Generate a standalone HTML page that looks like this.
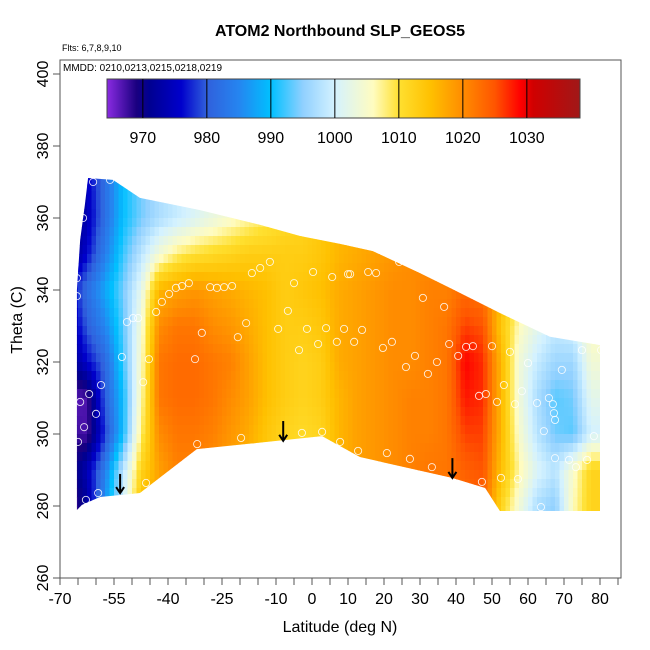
<!DOCTYPE html>
<html><head><meta charset="utf-8"><style>
html,body{margin:0;padding:0;background:#fff}
svg{display:block;font-family:"Liberation Sans",sans-serif}
</style></head><body>
<svg id="chart" width="650" height="650" xmlns="http://www.w3.org/2000/svg">
<defs><clipPath id="fieldClip"><polygon id="clipPoly" points=""/></clipPath>
<linearGradient id="cbGrad" x1="0" x2="1" y1="0" y2="0"></linearGradient></defs>
<text x="340" y="36" text-anchor="middle" font-weight="bold" font-size="16">ATOM2 Northbound SLP_GEOS5</text>
<text x="62" y="51" font-size="9">Flts: 6,7,8,9,10</text>
<g id="field" clip-path="url(#fieldClip)"></g>
<g id="points"></g>
<g id="arrows"></g>
<rect x="60" y="60" width="561" height="518" fill="none" stroke="#555" stroke-width="1"/>
<text x="63" y="71" font-size="10">MMDD: 0210,0213,0215,0218,0219</text>
<g id="colorbar"></g>
<g id="xaxis"></g>
<g id="yaxis"></g>
<text x="340" y="632" text-anchor="middle" font-size="16">Latitude (deg N)</text>
<text transform="translate(22,320) rotate(-90)" text-anchor="middle" font-size="16">Theta (C)</text>
</svg>
<script>
const colLats=[-67.5,-62.5,-57.5,-52.5,-47.5,-42.5,-37.5,-32.5,-27.5,-22.5,-17.5,-12.5,-7.5,-2.5,2.5,7.5,12.5,17.5,22.5,27.5,32.5,37.5,42.5,47.5,52.5,57.5,62.5,67.5,72.5,77.5];
const rowThetas=[370,360,350,340,330,320,310,300,290,280];
const slpRows=[
[968,975,982,990,994,997,999,1001,1003,1005,1007,1009,1011,1013,1015,1016,1017,1018,1019,1020,1020,1021,1022,1023,1020,1012,1008,1005,1005,1008],
[968,974,982,990,994,997,999,1001,1003,1005,1007,1009,1011,1012,1014,1016,1017,1018,1019,1020,1020,1021,1022,1023,1020,1012,1008,1005,1005,1008],
[970,976,984,992,998,1004,1008,1010,1011,1012,1013,1013,1013,1013,1014,1016,1017,1018,1019,1020,1020,1021,1022,1023,1020,1012,1008,1005,1005,1008],
[975,982,988,994,1002,1016,1018,1019,1018,1017,1016,1015,1013,1014,1015,1017,1018,1019,1020,1020,1021,1021,1023,1022,1016,1009,1005,1003,1004,1008],
[972,980,985,993,1004,1020,1022,1022,1020,1019,1017,1015,1013,1013,1014,1017,1018,1019,1020,1020,1021,1022,1026,1025,1014,1006,1002,999,1000,1006],
[970,976,981,992,1005,1022,1023,1023,1022,1021,1018,1015,1013,1012,1013,1017,1018,1019,1020,1020,1021,1022,1029,1027,1016,1004,999,996,996,1004],
[966,967,980,990,1006,1022,1023,1023,1022,1020,1018,1015,1013,1012,1013,1016,1018,1019,1020,1021,1021,1022,1028,1027,1016,1004,997,993,994,1002],
[968,967,978,990,1008,1020,1022,1022,1021,1019,1017,1014,1012,1011,1012,1016,1018,1019,1020,1021,1021,1022,1026,1026,1016,1005,998,994,993,1000],
[968,974,984,998,1012,1018,1021,1021,1020,1018,1016,1014,1012,1011,1012,1016,1018,1019,1020,1021,1022,1022,1024,1025,1015,1007,1001,998,1005,1012],
[966,972,986,1000,1015,1018,1020,1020,1020,1018,1016,1014,1012,1011,1012,1016,1018,1019,1020,1021,1022,1022,1023,1024,1012,1004,997,995,1006,1012]];
const boundLats=[-65.3,-64.4,-63.1,-62.2,-55.3,-47.8,-31.1,-14.4,-3.3,7.8,16.9,30,38.3,52.2,66.1,80,80,52.2,48.1,38.9,13.3,2.8,-32,-47.8,-58.9,-63.9,-65.3];
const boundThetas=[340,353.9,363.6,371.1,370.6,365.6,362.2,358.1,355,352.8,350.8,344.7,340.6,333.6,327,324.7,278.6,278.6,285,287.8,293.6,299.4,295.8,283.6,282.5,280.3,278.9];
const ptLats=[-60.8,-56.1,-63.6,-65.3,-65.3,-49.7,-48.3,-51.4,-52.8,-45.3,-32.5,-46.9,-58.6,-61.9,-64.4,-60,-63.3,-65,-59.4,-62.8,-46.1,-31.9,-19.7,-2.8,2.8,7.8,-43.3,-41.7,-39.7,-37.8,-36.1,-34.2,-28.3,-26.4,-24.4,-22.2,-16.7,-14.4,-11.7,-30.6,-20.6,-18.3,-9.4,-6.7,-5,0.3,5.6,10,-1.4,3.9,8.9,1.7,6.9,-3.6,
24.2,10.6,15.6,17.8,30.8,36.7,13.9,11.7,19.7,22.2,28.6,26.1,34.7,32.2,38.1,40.6,42.8,44.7,50,55,60,69.4,53.3,58.3,46.4,48.3,51.4,56.4,62.5,65.8,66.9,67.2,67.5,64.4,78.3,75,80.3,12.8,20.8,27.2,33.3,47.2,52.5,57.2,67.5,71.4,73.3,76.4,63.6];
const ptThetas=[370,370.6,360,343.3,338.3,332.2,332.2,331.1,321.4,320.8,320.8,314.4,313.6,311.1,308.9,305.6,301.9,297.8,283.6,281.7,286.4,297.2,298.9,300.3,300.6,297.8,333.9,336.7,338.9,340.6,341.1,341.9,340.8,340.6,340.8,341.1,344.7,346.1,347.8,328.1,326.9,330.8,329.2,334.2,341.9,345,343.6,344.4,329.2,329.4,329.2,325,325.6,323.3,
347.8,344.4,345,344.7,337.8,335.3,328.9,325.6,323.9,325.6,321.7,318.6,320,316.7,325,321.7,324.2,324.4,324.4,322.8,319.7,317.8,313.6,311.9,310.6,311.1,308.9,308.3,308.6,310,308.3,305.8,303.9,300.8,299.4,323.3,323.3,295.3,294.7,293.1,290.8,286.7,287.8,287.5,293.3,292.8,290.8,292.8,279.7];
const arrowLats=[-53.3,-8,39];
const arrowTops=[288.9,303.6,293.3];
const arrowTips=[283.6,298.1,287.8];
const xTicks=[-70,-65,-60,-55,-50,-45,-40,-35,-30,-25,-20,-15,-10,-5,0,5,10,15,20,25,30,35,40,45,50,55,60,65,70,75,80,85];
const xLabels=[-70,-55,-40,-25,-10,0,10,20,30,40,50,60,70,80];
const yTicks=[260,280,300,320,340,360,380,400];
const cbTicks=[970,980,990,1000,1010,1020,1030];
const cbStops=[[964.4,'#8a2be2'],[969,'#1a0080'],[971,'#000090'],[976,'#0000cc'],[980,'#3060dc'],[985,'#2585f0'],[990,'#00c0ff'],[995,'#90d0ff'],[1000,'#d4f2ff'],[1006,'#fffcc0'],[1010,'#ffe030'],[1015,'#ffc000'],[1020,'#ff8c00'],[1025,'#ff5500'],[1029,'#ff0000'],[1031,'#d00000'],[1038.4,'#a01818']];

const NS='http://www.w3.org/2000/svg';
const xs=v=>60+(v+70)*3.6;
const ys=v=>578-(v-260)*3.6;
const cbx=v=>107+(v-964.4)*6.4;
function hex(c){return [1,3,5].map(i=>parseInt(c.substr(i,2),16));}
function color(v){
  if(v<=cbStops[0][0])return cbStops[0][1];
  for(let i=1;i<cbStops.length;i++){
    if(v<=cbStops[i][0]){const a=cbStops[i-1],b=cbStops[i];const t=(v-a[0])/(b[0]-a[0]);
      const ca=hex(a[1]),cb=hex(b[1]);return 'rgb('+ca.map((c,k)=>Math.round(c+(cb[k]-c)*t)).join(',')+')';}
  }
  return cbStops[cbStops.length-1][1];
}
function mk(tag,attrs,parent){const e=document.createElementNS(NS,tag);for(const k in attrs)e.setAttribute(k,attrs[k]);parent.appendChild(e);return e;}
function fieldAt(lat,th){
  const nc=colLats.length,nr=rowThetas.length;
  let fc=(lat-colLats[0])/(colLats[1]-colLats[0]);fc=Math.max(0,Math.min(nc-1,fc));
  let fr=(rowThetas[0]-th)/(rowThetas[0]-rowThetas[1]);fr=Math.max(0,Math.min(nr-1,fr));
  const c0=Math.min(nc-2,Math.floor(fc)),r0=Math.min(nr-2,Math.floor(fr));
  const tc=fc-c0,tr=fr-r0;
  const a=slpRows[r0][c0],b=slpRows[r0][c0+1],c=slpRows[r0+1][c0],d=slpRows[r0+1][c0+1];
  return (a*(1-tc)+b*tc)*(1-tr)+(c*(1-tc)+d*tc)*tr;
}

document.getElementById('clipPoly').setAttribute('points',boundLats.map((l,i)=>xs(l)+','+ys(boundThetas[i])).join(' '));
const field=document.getElementById('field');
const dLat=1.25,dTh=2.5;
for(let lat=-70;lat<80.01;lat+=dLat){
  for(let th=375;th>277;th-=dTh){
    const v=fieldAt(lat+dLat/2,th-dTh/2);
    const e=mk('rect',{x:xs(lat).toFixed(2),y:ys(th).toFixed(2),width:(dLat*3.6+0.4).toFixed(2),height:(dTh*3.6+0.4).toFixed(2),fill:color(v)},field);
    
    
  }
}
const pts=document.getElementById('points');
ptLats.forEach((l,i)=>{
  const e=mk('circle',{cx:xs(l),cy:ys(ptThetas[i]),r:3.6,fill:'none',stroke:'#fff','stroke-width':0.9,'stroke-opacity':0.85},pts);
  
  
});
const ar=document.getElementById('arrows');
arrowLats.forEach((l,i)=>{
  const x=xs(l),y1=ys(arrowTops[i]),y2=ys(arrowTips[i]);
  const g=mk('g',{},ar);
  
  
  mk('line',{x1:x,y1:y1,x2:x,y2:y2,stroke:'#000','stroke-width':2},g);
  mk('polyline',{points:(x-4)+','+(y2-6)+' '+x+','+y2+' '+(x+4)+','+(y2-6),fill:'none',stroke:'#000','stroke-width':2},g);
});
const grad=document.getElementById('cbGrad');
cbStops.forEach(s=>mk('stop',{offset:((cbx(s[0])-107)/473*100)+'%','stop-color':s[1]},grad));
const cb=document.getElementById('colorbar');
const cbr=mk('rect',{x:107,y:79,width:473,height:39,fill:'url(#cbGrad)',stroke:'#444','stroke-width':1},cb);


cbTicks.forEach(t=>{
  mk('line',{x1:cbx(t),x2:cbx(t),y1:79,y2:118,stroke:'#000','stroke-width':1},cb);
  const tx=mk('text',{x:cbx(t),y:143,'text-anchor':'middle','font-size':16},cb);tx.textContent=t;
  
  
});
const xa=document.getElementById('xaxis');
xTicks.forEach(t=>mk('line',{x1:xs(t),x2:xs(t),y1:578,y2:585,stroke:'#555'},xa));
xLabels.forEach(t=>{const e=mk('text',{x:xs(t),y:604,'text-anchor':'middle','font-size':16},xa);e.textContent=t;
  
  });
const ya=document.getElementById('yaxis');
yTicks.forEach(t=>{mk('line',{x1:53,x2:60,y1:ys(t),y2:ys(t),stroke:'#555'},ya);
  const e=mk('text',{transform:'translate(48,'+ys(t)+') rotate(-90)','text-anchor':'middle','font-size':16},ya);e.textContent=t;
  
  });
</script>
</body></html>
